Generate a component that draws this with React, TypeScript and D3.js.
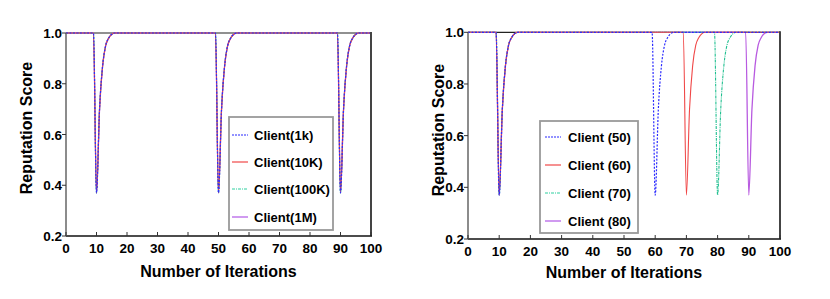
import React from 'react';
import * as d3 from 'd3';

// readings from the picture: [iteration, reputation score]
const leftSeries: [number, number][] = [
  [0, 1], [9, 1], [10, 0.37], [11, 0.7], [12, 0.87], [13, 0.95], [14, 0.98], [15, 0.995], [16, 1],
  [49, 1], [50, 0.37], [51, 0.7], [52, 0.87], [53, 0.95], [54, 0.98], [55, 0.995], [56, 1],
  [89, 1], [90, 0.37], [91, 0.7], [92, 0.87], [93, 0.95], [94, 0.98], [95, 0.995], [96, 1],
  [100, 1],
];

const client50: [number, number][] = [
  [0, 1], [9, 1], [10, 0.37], [11, 0.7], [12, 0.87], [13, 0.95], [14, 0.98], [15, 0.995], [16, 1],
  [59, 1], [60, 0.37], [61, 0.7], [62, 0.87], [63, 0.95], [64, 0.98], [65, 0.995], [66, 1],
  [100, 1],
];
const client60: [number, number][] = [
  [0, 1], [9, 1], [10, 0.37], [11, 0.7], [12, 0.87], [13, 0.95], [14, 0.98], [15, 0.995], [16, 1],
  [69, 1], [70, 0.37], [71, 0.7], [72, 0.87], [73, 0.95], [74, 0.98], [75, 0.995], [76, 1],
  [100, 1],
];
const client70: [number, number][] = [
  [0, 1], [9, 1], [10, 0.37], [11, 0.7], [12, 0.87], [13, 0.95], [14, 0.98], [15, 0.995], [16, 1],
  [79, 1], [80, 0.37], [81, 0.7], [82, 0.87], [83, 0.95], [84, 0.98], [85, 0.995], [86, 1],
  [100, 1],
];
const client80: [number, number][] = [
  [0, 1], [9, 1], [10, 0.37], [11, 0.7], [12, 0.87], [13, 0.95], [14, 0.98], [15, 0.995], [16, 1],
  [89, 1], [90, 0.37], [91, 0.7], [92, 0.87], [93, 0.95], [94, 0.98], [95, 0.995], [96, 1],
  [100, 1],
];

const leftLabels = ['Client(1k)', 'Client(10K)', 'Client(100K)', 'Client(1M)'];
const rightLabels = ['Client (50)', 'Client (60)', 'Client (70)', 'Client (80)'];

const xTicks = [0, 10, 20, 30, 40, 50, 60, 70, 80, 90, 100];
const yTicks = [0.2, 0.4, 0.6, 0.8, 1.0];

const styles = [
  { color: '#2b2bff', dash: '2,1.5', width: 1.2 },
  { color: '#f04848', dash: '', width: 1.1 },
  { color: '#1fbf8f', dash: '3,1,1,1', width: 1.1 },
  { color: '#b85ae0', dash: '', width: 1.3 },
];
const legendStyles = [
  { color: '#6f6fff', dash: '2,1', width: 1.5 },
  { color: '#f04848', dash: '', width: 1.2 },
  { color: '#2fcf9f', dash: '3,1,1,1', width: 1.2 },
  { color: '#d09af0', dash: '', width: 2 },
];

const font = '"Liberation Sans", Arial, Helvetica, sans-serif';

interface PanelProps {
  x0: number; x1: number; yTop: number; yBot: number;
  series: [number, number][][];
  labels: string[];
  yTitleX: number; yTitleY: number; xTitleY: number;
  legend: { x: number; y: number; w: number; h: number; rows: number[]; lx0: number; lx1: number; tx: number };
}

const Panel: React.FC<PanelProps> = (p) => {
  const x = d3.scaleLinear().domain([0, 100]).range([p.x0, p.x1]);
  const y = d3.scaleLinear().domain([0.2, 1.0]).range([p.yBot, p.yTop]);
  const line = d3.line<[number, number]>()
    .x(d => x(d[0]))
    .y(d => y(d[1]))
    .curve(d3.curveMonotoneX);
  const order = [3, 2, 1, 0];
  const lg = p.legend;
  return (
    <g fontFamily={font} fontWeight="bold">
      {/* frame top */}
      <line x1={p.x0} x2={p.x1} y1={p.yTop} y2={p.yTop} stroke="#222" strokeWidth={1.2} />
      {order.map(i => (
        <path key={i} d={line(p.series[i]) || ''} fill="none"
          stroke={styles[i].color} strokeWidth={styles[i].width}
          strokeDasharray={styles[i].dash || undefined} />
      ))}
      {/* axes */}
      <line x1={p.x1} x2={p.x1} y1={p.yTop - 1} y2={p.yBot} stroke="#444" strokeWidth={2} />
      <line x1={p.x0} x2={p.x1 + 1} y1={p.yBot} y2={p.yBot} stroke="#111" strokeWidth={1.3} />
      <line x1={p.x0} x2={p.x0} y1={p.yTop} y2={p.yBot} stroke="#666" strokeWidth={1.5} />
      {yTicks.map(t => (
        <g key={t}>
          <line x1={p.x0 - 4} x2={p.x0} y1={y(t)} y2={y(t)} stroke="#333" strokeWidth={1} />
          <text x={p.x0 - 4} y={y(t) + 5} textAnchor="end" fontSize={13.5} fill="#000">{t.toFixed(1)}</text>
        </g>
      ))}
      {xTicks.map(t => (
        <g key={t}>
          <line x1={x(t)} x2={x(t)} y1={p.yBot - 4} y2={p.yBot} stroke="#333" strokeWidth={1} />
          <text x={x(t)} y={p.yBot + 17} textAnchor="middle" fontSize={13.5} fill="#000">{t}</text>
        </g>
      ))}
      <text x={(p.x0 + p.x1) / 2} y={p.xTitleY} textAnchor="middle" fontSize={16} fill="#000">Number of Iterations</text>
      <text transform={`translate(${p.yTitleX},${p.yTitleY}) rotate(-90)`} textAnchor="middle" fontSize={16} fill="#000">Reputation Score</text>
      {/* legend */}
      <rect x={lg.x} y={lg.y} width={lg.w} height={lg.h} fill="#fff" stroke="#9a9a9a" strokeWidth={1.8} />
      {p.labels.map((lab, i) => (
        <g key={lab}>
          <line x1={lg.lx0} x2={lg.lx1} y1={lg.rows[i]} y2={lg.rows[i]}
            stroke={legendStyles[i].color} strokeWidth={legendStyles[i].width}
            strokeDasharray={legendStyles[i].dash || undefined} />
          <text x={lg.tx} y={lg.rows[i] + 4.5} fontSize={13} fill="#000">{lab}</text>
        </g>
      ))}
    </g>
  );
};

export default function App() {
  return (
    <svg width={830} height={299} style={{ position: 'absolute', left: 0, top: 0, background: '#fff' }}>
      <Panel x0={66} x1={371} yTop={33} yBot={236}
        series={[leftSeries, leftSeries, leftSeries, leftSeries]}
        labels={leftLabels}
        yTitleX={32} yTitleY={128} xTitleY={277}
        legend={{ x: 229, y: 117, w: 104, h: 113, rows: [135, 162, 189, 217], lx0: 232, lx1: 248, tx: 254 }} />
      <Panel x0={468} x1={780} yTop={32.3} yBot={239}
        series={[client50, client60, client70, client80]}
        labels={rightLabels}
        yTitleX={444} yTitleY={130} xTitleY={278}
        legend={{ x: 540, y: 121, w: 98, h: 112, rows: [137, 165, 193, 221], lx0: 545, lx1: 561, tx: 568 }} />
    </svg>
  );
}
